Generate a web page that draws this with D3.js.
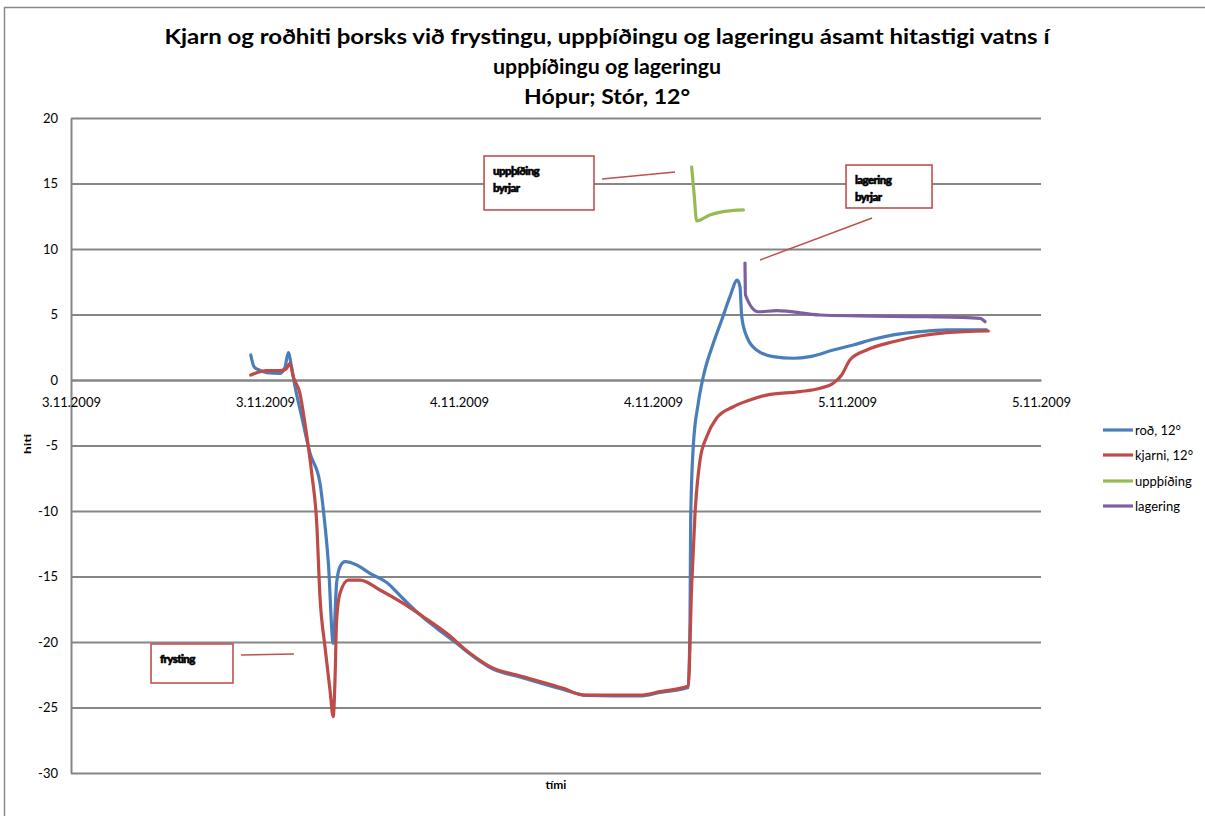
<!DOCTYPE html>
<html>
<head>
<meta charset="utf-8">
<script src="https://cdn.jsdelivr.net/npm/d3@7"></script>
<style>
  html, body { margin: 0; padding: 0; background: #fff; }
  svg { display: block; }
  text { font-family: Lato, "Open Sans", "Liberation Sans", sans-serif; fill: #000; }
</style>
</head>
<body>
<svg id="chart" width="1205" height="816"></svg>
<script>
// ---- Data (hours after 3.11.2009 00:00, temperature °C) ----
const titleLines = ["Kjarn og roðhiti þorsks við frystingu, uppþíðingu og lageringu ásamt hitastigi vatns í",
                    "uppþíðingu og lageringu", "Hópur; Stór, 12°"];
const seriesNames = ["roð, 12°", "kjarni, 12°", "uppþíðing", "lagering"];
const seriesColors = ["#4A7EBB", "#BE4B48", "#98B954", "#7D60A0"];
const yTicks = [-30, -25, -20, -15, -10, -5, 0, 5, 10, 15, 20];
const xTickHours = [0, 12, 24, 36, 48, 60];

const rodHours = [11.12, 11.32, 11.69, 12.10, 12.93, 13.24, 13.44, 13.65, 13.86, 14.27, 14.78, 15.40, 15.61, 15.92, 16.22, 16.43, 16.64, 16.95, 17.67, 18.49, 19.53, 20.55, 21.59, 22.62, 23.86, 24.68, 25.92, 27.98, 30.45, 31.90, 35.20, 36.43, 38.18, 38.29, 38.33, 38.49, 38.80, 39.11, 39.73, 40.25, 40.76, 41.21, 41.38, 41.49, 41.80, 42.41, 43.44, 44.68, 45.71, 47.15, 48.39, 49.63, 50.86, 52.51, 54.17, 56.64];
const rodTemp  = [1.91, 1.02, 0.73, 0.56, 0.50, 0.99, 2.10, 0.92, -0.51, -2.80, -5.57, -7.86, -9.92, -13.97, -20.1, -15.5, -14.25, -13.87, -14.12, -14.76, -15.45, -16.70, -17.92, -18.95, -20.10, -20.92, -21.95, -22.75, -23.63, -24.08, -24.12, -23.85, -23.47, -18.32, -10.69, -5.09, -1.78, 0.25, 2.80, 4.58, 6.36, 7.63, 7.12, 4.83, 3.31, 2.29, 1.78, 1.66, 1.78, 2.29, 2.67, 3.11, 3.44, 3.69, 3.82, 3.82];

const kjarniHours = [11.12, 12.10, 12.93, 13.30, 13.55, 13.75, 14.16, 14.47, 14.89, 15.20, 15.40, 15.71, 16.02, 16.22, 16.33, 16.43, 16.64, 17.15, 17.88, 19.11, 20.55, 21.79, 23.24, 24.68, 25.92, 27.98, 30.45, 31.69, 35.20, 36.43, 38.18, 38.39, 38.60, 38.91, 39.32, 39.94, 40.97, 42.00, 43.03, 45.09, 46.33, 47.15, 47.67, 48.18, 49.22, 50.86, 52.51, 54.17, 56.74];
const kjarniTemp  = [0.38, 0.71, 0.71, 0.84, 1.27, 0.25, -1.02, -3.31, -7.12, -10.94, -16.54, -20.36, -23.66, -25.70, -22.90, -18.32, -16.28, -15.27, -15.27, -16.03, -17.05, -18.07, -19.34, -20.86, -21.88, -22.65, -23.53, -24.05, -24.05, -23.79, -23.36, -15.78, -10.18, -6.11, -4.33, -2.90, -2.04, -1.53, -1.15, -0.89, -0.63, -0.25, 0.38, 1.53, 2.29, 2.92, 3.36, 3.61, 3.74];

const uppHours = [38.39, 38.54, 38.70, 39.52, 40.35, 41.59];
const uppTemp  = [16.26, 14.25, 12.14, 12.60, 12.85, 12.98];

const lagHours = [41.69, 41.72, 42.51, 43.65, 46.33, 48.80, 52.93, 56.23, 56.54];
const lagTemp  = [8.93, 6.49, 5.21, 5.29, 4.96, 4.89, 4.83, 4.71, 4.45];

// annotations: box corners and leader line in data units (hours, °C)
const annTexts = [["uppþíðing", "byrjar"], ["lagering", "byrjar"], ["frysting"]];
const annBoxes = [[25.55, 17.10, 32.35, 12.98], [47.94, 16.41, 53.26, 13.13], [4.95, -20.15, 10.02, -23.13]];
const annLeaders = [[32.85, 15.34, 37.36, 15.88], [42.62, 9.16, 49.55, 12.37], [10.52, -20.99, 13.79, -20.92]];

// ---- Drawing ----
const base = new Date(2009, 10, 3, 0, 0, 0);
const toDate = h => new Date(base.getTime() + h * 3600 * 1000);

const svg = d3.select("#chart");
const pLeft = 71, pRight = 1041, pTop = 118, pBottom = 773;

const x = d3.scaleTime().domain([toDate(0), toDate(60)]).range([pLeft, pRight]);
const y = d3.scaleLinear().domain([-30, 20]).range([pBottom, pTop]);

// outer frame
svg.append("path").attr("d", `M4.5,816 L4.5,7.5 L1205,7.5`)
  .attr("fill", "none").attr("stroke", "#8a8a8a").attr("stroke-width", 1.5);

// title
const titleY = [44, 74, 104];
const titleLen = [885, 228, 166];
svg.append("g").selectAll("text").data(titleLines).join("text")
  .attr("x", 607).attr("y", (d, i) => titleY[i])
  .attr("text-anchor", "middle")
  .attr("font-size", 20).attr("font-weight", "bold")
  .attr("textLength", (d, i) => titleLen[i]).attr("lengthAdjust", "spacingAndGlyphs")
  .text(d => d);

// y axis with gridlines
const yAxis = d3.axisLeft(y).tickValues(yTicks).tickFormat(d => String(d))
  .tickSizeInner(-(pRight - pLeft)).tickSizeOuter(0).tickPadding(13);
const gy = svg.append("g").attr("transform", `translate(${pLeft},0)`).call(yAxis);
gy.select(".domain").attr("stroke", "#868686").attr("stroke-width", 2);
gy.selectAll(".tick line").attr("stroke", "#868686").attr("stroke-width", 2);
gy.selectAll(".tick text").attr("font-size", 13).attr("font-family", "Lato, 'Open Sans', sans-serif").attr("fill", "#000");

// x axis at 0
const fmt = d3.timeFormat("%-d.%-m.%Y");
const xAxis = d3.axisBottom(x).tickValues(xTickHours.map(toDate)).tickFormat(fmt).tickSize(0).tickPadding(18);
const gx = svg.append("g").attr("transform", `translate(0,${y(0)})`).call(xAxis);
gx.select(".domain").attr("stroke", "#868686").attr("stroke-width", 2);
gx.selectAll(".tick text").attr("font-size", 13).attr("font-family", "Lato, 'Open Sans', sans-serif").attr("fill", "#000");

// axis titles
svg.append("text").attr("x", 556).attr("y", 789).attr("text-anchor", "middle")
  .attr("font-size", 12).attr("font-weight", "bold").text("tími");
svg.append("text").attr("transform", "translate(31,444) rotate(-90)").attr("text-anchor", "middle")
  .attr("font-size", 9).attr("font-weight", "bold").attr("textLength", 20).attr("lengthAdjust", "spacingAndGlyphs")
  .text("hiti");

// series
const series = [
  [rodHours, rodTemp], [kjarniHours, kjarniTemp], [uppHours, uppTemp], [lagHours, lagTemp]
];
const line = d3.line().x(d => x(toDate(d[0]))).y(d => y(d[1])).curve(d3.curveMonotoneX);
const drawOrder = [0, 1, 2, 3];
svg.append("g").selectAll("path").data(drawOrder).join("path")
  .attr("d", i => line(d3.zip(series[i][0], series[i][1])))
  .attr("fill", "none").attr("stroke", i => seriesColors[i]).attr("stroke-width", 3.2)
  .attr("stroke-linejoin", "round").attr("stroke-linecap", "round");

// annotations
const ann = svg.append("g");
annBoxes.forEach((b, i) => {
  const x0 = x(toDate(b[0])), y0 = y(b[1]), x1 = x(toDate(b[2])), y1 = y(b[3]);
  ann.append("rect").attr("x", x0).attr("y", y0).attr("width", x1 - x0).attr("height", y1 - y0)
    .attr("fill", "#fff").attr("stroke", "#C0504D").attr("stroke-width", 1.6);
  annTexts[i].forEach((t, j) => {
    ann.append("text").attr("x", x0 + 9).attr("y", y0 + 19 + j * 17)
      .attr("font-size", 11.5).attr("font-weight", "900").attr("letter-spacing", -0.6)
      .attr("stroke", "#000").attr("stroke-width", 0.6)
      .text(t);
  });
  const l = annLeaders[i];
  ann.append("line").attr("x1", x(toDate(l[0]))).attr("y1", y(l[1]))
    .attr("x2", x(toDate(l[2]))).attr("y2", y(l[3]))
    .attr("stroke", "#C0504D").attr("stroke-width", 1.5);
});

// legend
const lg = svg.append("g");
const legY = [430, 455, 481, 506];
seriesNames.forEach((n, i) => {
  lg.append("line").attr("x1", 1103).attr("x2", 1133).attr("y1", legY[i]).attr("y2", legY[i])
    .attr("stroke", seriesColors[i]).attr("stroke-width", 3.2);
  lg.append("text").attr("x", 1135).attr("y", legY[i] + 4.5).attr("font-size", 13).text(n);
});
</script>
</body>
</html>
